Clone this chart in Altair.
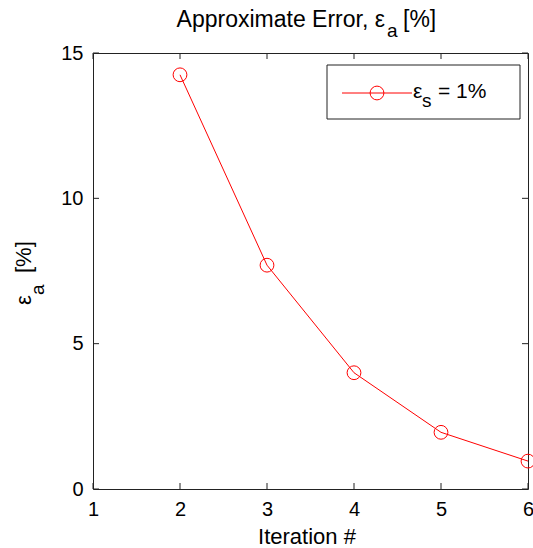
import altair as alt
import pandas as pd

# ---- data ----
iterations = [2, 3, 4, 5, 6]
approx_error = [14.25, 7.7, 4.0, 1.95, 0.96]
x_ticks = [1, 2, 3, 4, 5, 6]
y_ticks = [0, 5, 10, 15]
legend_label_main = "ε"
legend_label_sub = "s"
legend_label_rest = "= 1%"
title_main = "Approximate Error, ε"
title_sub = "a"
title_rest = "[%]"
xlabel = "Iteration #"
ylabel_main = "ε"
ylabel_sub = "a"
ylabel_rest = "[%]"

W, H = 435, 436
FONT = "Liberation Sans"
RED = "#ff0000"
INK = "#222222"

df = pd.DataFrame({"iter": iterations, "ea": approx_error})
one = pd.DataFrame({"k": [0]})

xs = alt.Scale(domain=[1, 6], nice=False, zero=False)
ys = alt.Scale(domain=[0, 15], nice=False, zero=True)

x_axis = alt.Axis(values=x_ticks, ticks=False, domain=False, grid=False,
                  labelFontSize=20, labelPadding=10, labelColor="black",
                  labelFont=FONT, title=None, format="d", labelFlush=False,
                  labelOverlap=False)
y_axis = alt.Axis(values=y_ticks, ticks=False, domain=False, grid=False,
                  labelFontSize=20, labelPadding=10, labelColor="black",
                  labelFont=FONT, title=None, format="d", labelFlush=False,
                  labelOverlap=False)

line = alt.Chart(df).mark_line(color=RED, strokeWidth=1).encode(
    x=alt.X("iter:Q", scale=xs, axis=x_axis),
    y=alt.Y("ea:Q", scale=ys, axis=y_axis),
)
pts = alt.Chart(df).mark_point(shape="circle", filled=False, color=RED,
                               size=190, strokeWidth=1, opacity=1).encode(
    x=alt.X("iter:Q", scale=xs, axis=x_axis),
    y=alt.Y("ea:Q", scale=ys, axis=y_axis),
)

xt = pd.DataFrame({"t": x_ticks})
yt = pd.DataFrame({"t": y_ticks})
TL = 6
tick_bottom = alt.Chart(xt).mark_rule(color=INK, strokeWidth=1).encode(
    x=alt.X("t:Q", scale=xs, axis=x_axis), y=alt.value(H), y2=alt.value(H - TL))
tick_top = alt.Chart(xt).mark_rule(color=INK, strokeWidth=1).encode(
    x=alt.X("t:Q", scale=xs, axis=x_axis), y=alt.value(0), y2=alt.value(TL))
tick_left = alt.Chart(yt).mark_rule(color=INK, strokeWidth=1).encode(
    y=alt.Y("t:Q", scale=ys, axis=y_axis), x=alt.value(0), x2=alt.value(TL))
tick_right = alt.Chart(yt).mark_rule(color=INK, strokeWidth=1).encode(
    y=alt.Y("t:Q", scale=ys, axis=y_axis), x=alt.value(W), x2=alt.value(W - TL))

# ---- legend ----
leg_box = alt.Chart(one).mark_rect(fill="white", stroke=INK, strokeWidth=1).encode(
    x=alt.value(234), x2=alt.value(427), y=alt.value(12), y2=alt.value(66))
leg_line = alt.Chart(one).mark_rule(color=RED, strokeWidth=1).encode(
    x=alt.value(249), x2=alt.value(319), y=alt.value(40))
leg_pt = alt.Chart(one).mark_point(shape="circle", filled=False, color=RED,
                                   size=190, strokeWidth=1, opacity=1).encode(
    x=alt.value(284), y=alt.value(40))


def txt(s, x, y, size, align="left", angle=0):
    return alt.Chart(one).mark_text(text=s, align=align, baseline="alphabetic",
                                    font=FONT, fontSize=size, color="black",
                                    angle=angle).encode(
        x=alt.value(x), y=alt.value(y))


leg_t1 = txt(legend_label_main, 320, 45, 21)
leg_t2 = txt(legend_label_sub, 329, 54, 19)
leg_t3 = txt(legend_label_rest, 345, 45, 21)

# ---- title ----
t1 = txt(title_main, 292, -26, 23, align="right")
t2 = txt(title_sub, 294, -16, 19)
t3 = txt(title_rest, 310, -26, 23)

# ---- x label ----
xl = txt(xlabel, 214, 491, 22, align="center")

# ---- y label (rotated) ----
yl1 = txt(ylabel_main, -62, 252, 22, angle=270)
yl2 = txt(ylabel_sub, -49, 242, 19, angle=270)
yl3 = txt(ylabel_rest, -62, 220, 22, angle=270)

chart = alt.layer(
    line, pts, tick_bottom, tick_top, tick_left, tick_right,
    leg_box, leg_line, leg_pt, leg_t1, leg_t2, leg_t3,
    t1, t2, t3, xl, yl1, yl2, yl3,
).properties(
    width=W, height=H,
    padding={"left": 93, "top": 53, "right": 5, "bottom": 59},
    autosize=alt.AutoSizeParams(type="none"),
    background="white",
).configure_view(stroke=INK, strokeWidth=1)

chart.save("out.html", embed_options={"renderer": "svg", "actions": False})
